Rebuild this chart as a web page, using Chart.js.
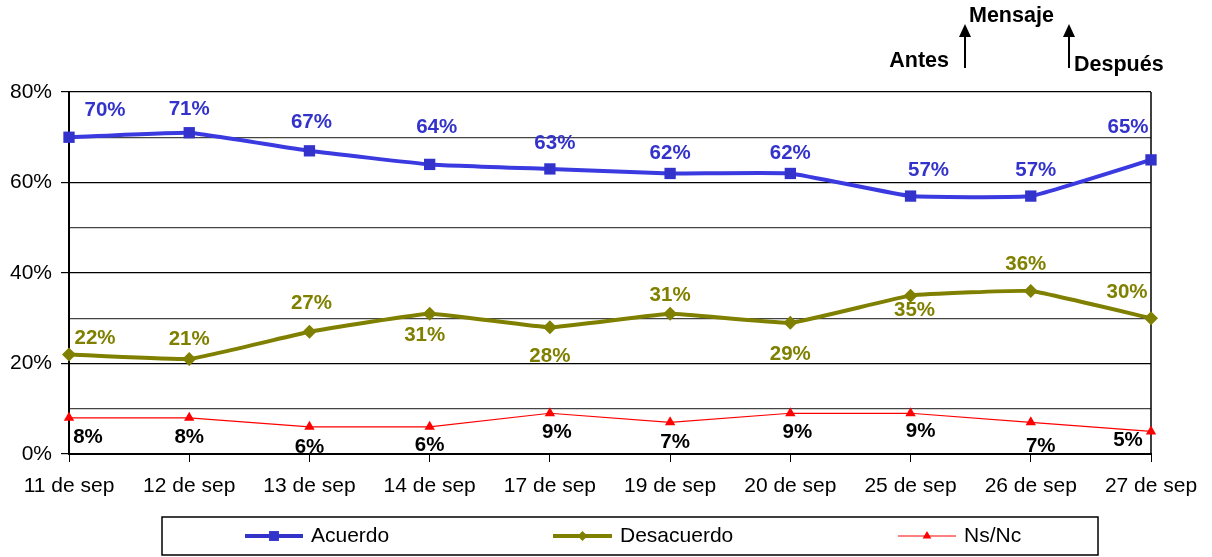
<!DOCTYPE html>
<html>
<head>
<meta charset="utf-8">
<script src="https://cdn.jsdelivr.net/npm/chart.js@4"></script>
<style>
  body { margin: 0; background: #fff; }
  #wrap { width: 1212px; height: 557px; position: relative; }
</style>
</head>
<body>
<div id="wrap"><canvas id="chart"></canvas></div>
<script>
// Categories and series
const fechas = ['11 de sep', '12 de sep', '13 de sep', '14 de sep', '17 de sep',
                '19 de sep', '20 de sep', '25 de sep', '26 de sep', '27 de sep'];
const acuerdo = [70, 71, 67, 64, 63, 62, 62, 57, 57, 65];
const desacuerdo = [22, 21, 27, 31, 28, 31, 29, 35, 36, 30];
const nsnc = [8, 8, 6, 6, 9, 7, 9, 9, 7, 5];
const yTicks = [0, 20, 40, 60, 80];

// Label offsets (px) from each point, so the value labels sit like the original
const labelOffsets = [
    [[36, -27], [0, -23], [2, -28], [7, -37], [5, -26], [0, -20], [0, -20], [18, -26], [5, -26], [-23, -33]],
    [[26, -16], [0, -20], [2, -28], [-5, 22], [0, 29], [0, -18], [0, 32], [4, 15], [-5, -27], [-24, -26]],
    [[19, 20], [0, 20], [0, 20], [0, 18], [7, 19], [5, 20], [7, 19], [10, 18], [10, 24], [-23, 9]]
];
const labelColors = ['#3333CC', '#808000', '#000000'];

const FONT = '"Liberation Sans", Arial, sans-serif';

// Draw the value labels, plot border, the annotation arrows and the boxed legend
const decorPlugin = {
    id: 'decor',
    beforeDatasetsDraw(chart) {
        const ctx = chart.ctx;
        const a = chart.chartArea;
        ctx.save();
        ctx.strokeStyle = '#000';
        ctx.lineWidth = 1.5;
        ctx.beginPath();
        ctx.moveTo(a.right, a.top);
        ctx.lineTo(a.right, a.bottom);
        ctx.stroke();
        ctx.restore();
    },
    afterDatasetsDraw(chart) {
        const ctx = chart.ctx;
        ctx.save();
        ctx.font = 'bold 20.5px ' + FONT;
        ctx.textAlign = 'center';
        ctx.textBaseline = 'middle';
        chart.data.datasets.forEach((ds, di) => {
            const meta = chart.getDatasetMeta(di);
            ctx.fillStyle = labelColors[di];
            meta.data.forEach((pt, i) => {
                const off = labelOffsets[di][i];
                ctx.fillText(ds.data[i] + '%', pt.x + off[0], pt.y + off[1]);
            });
        });
        ctx.restore();
    },
    afterDraw(chart) {
        const ctx = chart.ctx;
        ctx.save();

        // Annotations above the plot
        ctx.fillStyle = '#000';
        ctx.strokeStyle = '#000';
        ctx.font = 'bold 21.5px ' + FONT;
        ctx.textBaseline = 'middle';
        ctx.textAlign = 'left';
        ctx.fillText('Mensaje', 969, 16);
        ctx.textAlign = 'right';
        ctx.fillText('Antes', 949, 61);
        ctx.textAlign = 'left';
        ctx.fillText('Después', 1074, 65);

        [965, 1069].forEach(x => {
            ctx.lineWidth = 2;
            ctx.beginPath();
            ctx.moveTo(x, 68);
            ctx.lineTo(x, 34);
            ctx.stroke();
            ctx.beginPath();
            ctx.moveTo(x, 24);
            ctx.lineTo(x - 6, 37);
            ctx.lineTo(x + 6, 37);
            ctx.closePath();
            ctx.fill();
        });

        // Legend box
        ctx.lineWidth = 1.5;
        ctx.strokeRect(162, 517, 936, 38);
        const cy = 536;
        const items = [
            { x: 245, w: 58, color: '#3333CC', lw: 4, style: 'rect' },
            { x: 553, w: 59, color: '#808000', lw: 4, style: 'rectRot' },
            { x: 898, w: 58, color: '#FF0000', lw: 1, style: 'triangle' }
        ];
        ctx.font = '21px ' + FONT;
        ctx.textAlign = 'left';
        chart.data.datasets.forEach((ds, i) => {
            const it = items[i];
            ctx.strokeStyle = it.color;
            ctx.fillStyle = it.color;
            ctx.lineWidth = it.lw;
            ctx.beginPath();
            ctx.moveTo(it.x, cy);
            ctx.lineTo(it.x + it.w, cy);
            ctx.stroke();
            Chart.helpers.drawPoint(ctx, {
                pointStyle: it.style,
                radius: i === 0 ? 7 : 5,
                rotation: 0,
                borderWidth: 0
            }, it.x + it.w / 2, cy);
            ctx.fillStyle = '#000';
            ctx.fillText(ds.label, it.x + it.w + 8, cy);
        });
        ctx.restore();
    }
};

new Chart(document.getElementById('chart'), {
    type: 'line',
    data: {
        labels: fechas,
        datasets: [
            {
                label: 'Acuerdo',
                data: acuerdo,
                borderColor: '#3a3ae0',
                backgroundColor: '#3333CC',
                borderWidth: 4,
                pointStyle: 'rect',
                pointRadius: 8,
                pointBorderWidth: 0,
                tension: 0.1
            },
            {
                label: 'Desacuerdo',
                data: desacuerdo,
                borderColor: '#808000',
                backgroundColor: '#808000',
                borderWidth: 4,
                pointStyle: 'rectRot',
                pointRadius: 7,
                pointBorderWidth: 0,
                tension: 0.1
            },
            {
                label: 'Ns/Nc',
                data: nsnc,
                borderColor: '#FF0000',
                backgroundColor: '#FF0000',
                borderWidth: 1.2,
                pointStyle: 'triangle',
                pointRadius: 6,
                pointBorderWidth: 0,
                tension: 0
            }
        ]
    },
    options: {
        responsive: true,
        maintainAspectRatio: false,
        animation: false,
        layout: { padding: { top: 92, left: 0, right: 61, bottom: 43 } },
        plugins: {
            legend: { display: false },
            tooltip: { enabled: false }
        },
        scales: {
            x: {
                offset: false,
                afterFit: scale => { scale.height = 60; },
                border: { color: '#000', width: 2 },
                grid: {
                    drawOnChartArea: false,
                    drawTicks: true,
                    tickLength: 8,
                    tickColor: '#000'
                },
                ticks: {
                    color: '#000',
                    font: { family: FONT, size: 21 },
                    padding: 12,
                    maxRotation: 0,
                    autoSkip: false
                }
            },
            y: {
                min: 0,
                max: 80,
                afterFit: scale => { scale.width = 69; },
                border: { color: '#000', width: 2 },
                grid: {
                    color: ctx => (ctx.tick && ctx.tick.value % 20 === 0) ? '#000' : '#444',
                    lineWidth: 1.2,
                    tickLength: 8,
                    tickColor: ctx => (ctx.tick && yTicks.includes(ctx.tick.value)) ? '#000' : 'rgba(0,0,0,0)'
                },
                ticks: {
                    stepSize: 10,
                    color: '#000',
                    padding: 9,
                    font: { family: FONT, size: 21 },
                    callback: v => yTicks.includes(v) ? v + '%' : ''
                }
            }
        }
    },
    plugins: [decorPlugin]
});
</script>
</body>
</html>
